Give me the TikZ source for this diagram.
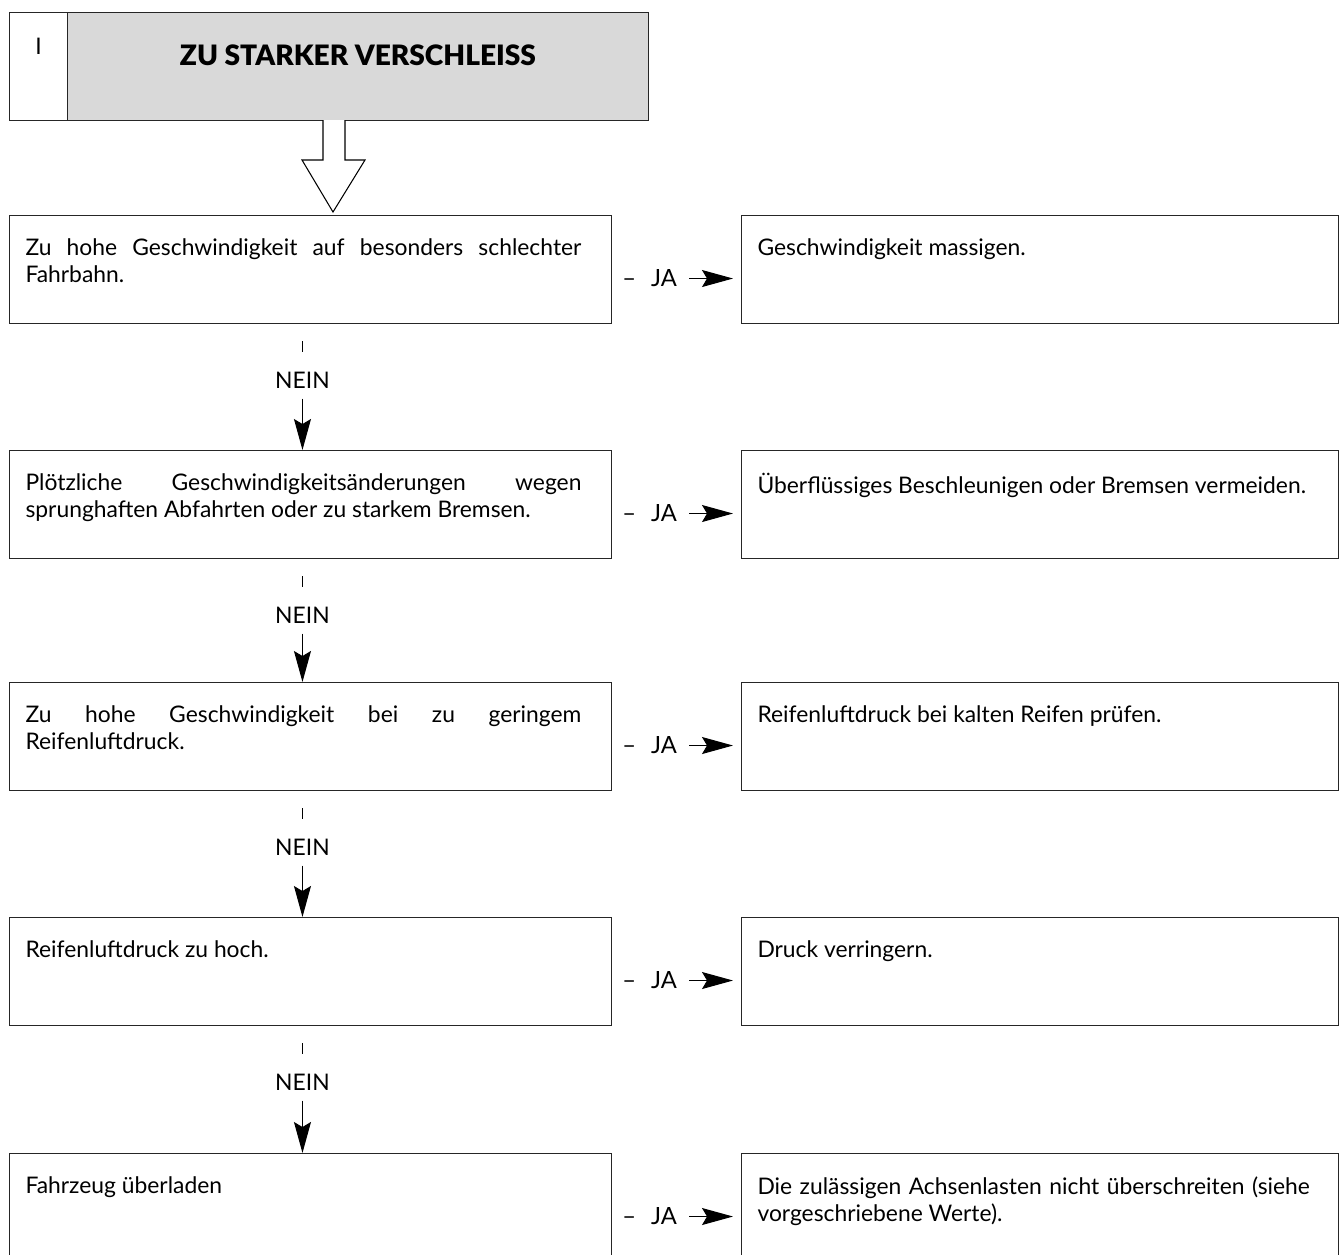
\documentclass[tikz,border=0pt]{standalone}
\usepackage{fontspec}
\setmainfont{Lato}
\newfontfamily\titelfont{Lato Black}
\usetikzlibrary{positioning,arrows.meta}

% Kaesten links (Frage) und rechts (Abhilfe)
\tikzset{
  kasten/.style={draw=black!85, line width=0.6pt, anchor=north west, inner ysep=0.46cm, inner xsep=0.32cm},
  frage/.style={kasten, minimum width=12.04cm, minimum height=2.16cm},
  abhilfe/.style={kasten, minimum width=11.94cm, minimum height=2.16cm},
  jalabel/.style={inner sep=0pt, font=\fontsize{13.5}{16}\selectfont},
  neinlabel/.style={inner sep=0pt, font=\fontsize{13}{16}\selectfont},
  pfeil/.style={line width=0.6pt, -{Stealth[length=0.62cm, width=0.34cm, inset=0.1cm]}},
}
\newcommand{\fragetext}[1]{\parbox[t][1.24cm][t]{11.4cm}{\rightskip=0.28cm\hyphenpenalty=10000\tolerance=9999 #1}}
\newcommand{\hilfetext}[1]{\parbox[t][1.24cm][t]{11.3cm}{\rightskip=0.25cm\hyphenpenalty=10000\tolerance=9999 #1}}

\begin{document}
\begin{tikzpicture}[x=0.02cm, y=-0.02cm, font=\fontsize{13}{15.4}\selectfont]

  \useasboundingbox (0,0) rectangle (1343,1255);

  % Kopfzeile
  \node[draw=black!85, line width=0.6pt, anchor=north west, minimum width=1.16cm, minimum height=2.16cm] (nr) at (9,12) {\raisebox{0.8cm}{I}};
  \node[draw=black!85, line width=0.6pt, fill=black!15, anchor=north west, minimum width=11.62cm, minimum height=2.16cm,
        font=\titelfont\fontsize{16}{19}\selectfont] (titel) at (67,12) {\raisebox{0.44cm}{ZU STARKER VERSCHLEISS}};

  % Hohlpfeil unter dem Titel
  \draw[line width=0.6pt, fill=white] (323,120) -- (323,160) -- (302,160) -- (333,212) -- (365,160) -- (345,160) -- (345,120);

  % Fragen
  \node[frage] (q1) at (9,215) {\fragetext{Zu hohe Geschwindigkeit auf besonders schlechter Fahrbahn.}};
  \node[frage] (q2) at (9,450) {\fragetext{Plötzliche Geschwindigkeitsänderungen wegen sprunghaften Abfahrten oder zu starkem Bremsen.}};
  \node[frage] (q3) at (9,682) {\fragetext{Zu hohe Geschwindigkeit bei zu geringem Reifenluftdruck.}};
  \node[frage] (q4) at (9,917) {\fragetext{Reifenluftdruck zu hoch.}};
  \node[frage] (q5) at (9,1153) {\fragetext{Fahrzeug überladen}};

  % Abhilfen
  \node[abhilfe] (a1) at (741,215) {\hilfetext{Geschwindigkeit massigen.}};
  \node[abhilfe] (a2) at (741,450) {\hilfetext{Überflüssiges Beschleunigen oder Bremsen vermeiden.}};
  \node[abhilfe] (a3) at (741,682) {\hilfetext{Reifenluftdruck bei kalten Reifen prüfen.}};
  \node[abhilfe] (a4) at (741,917) {\hilfetext{Druck verringern.}};
  \node[abhilfe] (a5) at (741,1153) {\hilfetext{Die zulässigen Achsenlasten nicht überschreiten (siehe vorgeschriebene Werte).}};

  % JA-Pfeile
  \foreach \i in {1,2,3,4,5} {
    \node[jalabel, right=0.2cm of q\i, yshift=-0.18cm] (ja\i) {–\hspace{0.3cm}JA};
    \draw[pfeil, shorten <=0.24cm, shorten >=0.16cm] (ja\i.east) -- (ja\i.east -| a\i.west);
  }

  % NEIN-Pfeile
  \foreach \i/\j in {1/2,2/3,3/4,4/5} {
    \node[neinlabel, below=0.95cm of q\i, xshift=-0.16cm] (nein\i) {NEIN};
    \draw[line width=0.5pt] ([yshift=0.4cm]nein\i.north) -- ([yshift=0.62cm]nein\i.north);
    \draw[pfeil, shorten <=0.2cm] (nein\i.south) -- (nein\i.south |- q\j.north);
  }

\end{tikzpicture}
\end{document}
